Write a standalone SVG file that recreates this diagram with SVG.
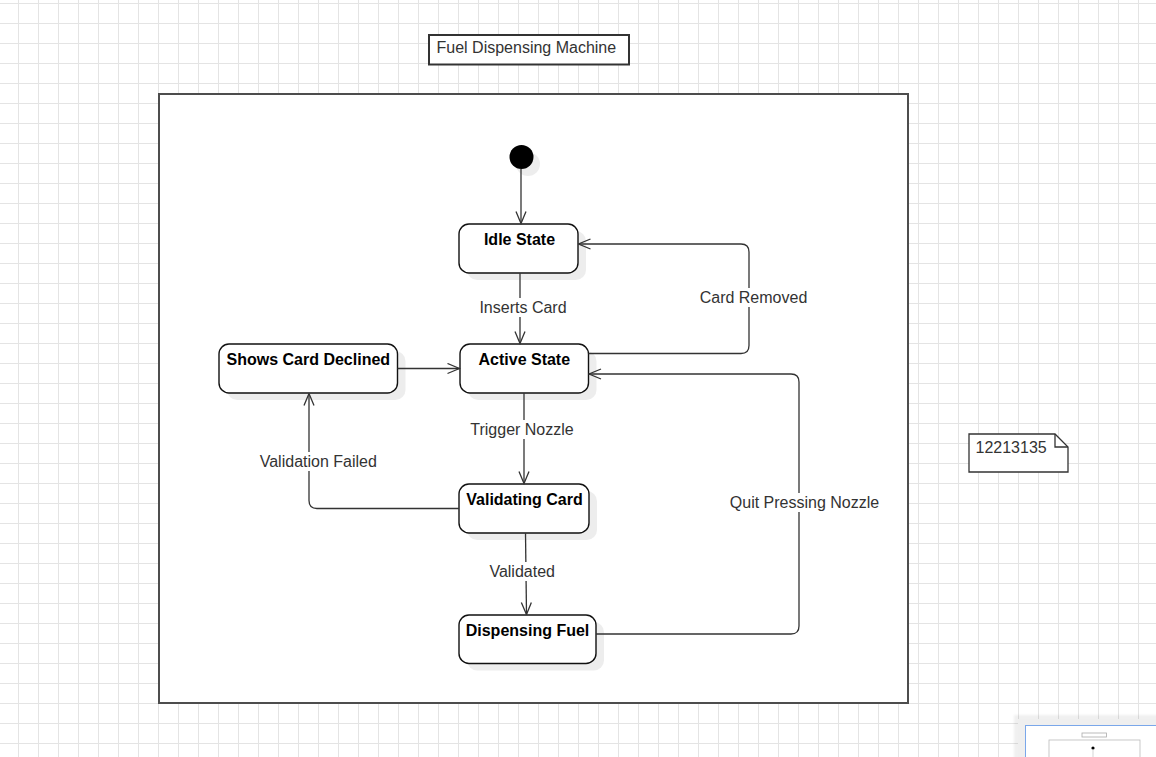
<svg xmlns="http://www.w3.org/2000/svg" width="1156" height="757" viewBox="0 0 1156 757">
<defs>
<pattern id="grid" x="18" y="3" width="20" height="20" patternUnits="userSpaceOnUse">
<rect x="0" y="0" width="20" height="1" fill="#e4e4e4"/>
<rect x="0" y="0" width="1" height="20" fill="#e4e4e4"/>
</pattern>
<marker id="arr" viewBox="0 0 14 12" refX="13" refY="6" markerWidth="14" markerHeight="12" markerUnits="userSpaceOnUse" orient="auto">
<path d="M1,1 L13,6 L1,11" fill="none" stroke="#333" stroke-width="1.3"/>
</marker>
<filter id="soft" x="-20%" y="-20%" width="140%" height="140%">
<feGaussianBlur stdDeviation="1"/>
</filter>
</defs>
<style>
.node{fill:#fff;stroke:#111;stroke-width:1.4}
.shadow{fill:#000;fill-opacity:0.07}
.ntext{font-family:"Liberation Sans",Arial,sans-serif;font-size:16px;font-weight:bold;fill:#000;text-anchor:middle}
.lbl{font-family:"Liberation Sans",Arial,sans-serif;font-size:16px;fill:#333;text-anchor:middle}
.lblbg{fill:#fff}
.edge{fill:none;stroke:#333;stroke-width:1.3}
.plain{font-family:"Liberation Sans",Arial,sans-serif;font-size:16px;fill:#333}
</style>
<rect x="0" y="0" width="1156" height="757" fill="#fff"/>
<rect x="0" y="0" width="1156" height="757" fill="url(#grid)"/>

<g id="title">
<rect x="429" y="35" width="200" height="29.5" fill="#fff" stroke="#333" stroke-width="2"/>
<text class="plain" x="436.5" y="53.3">Fuel Dispensing Machine</text>
</g>

<g id="frame">
<rect x="159" y="94" width="749" height="609" fill="#fff" stroke="#4d4d4d" stroke-width="2"/>
</g>

<g id="note">
<path d="M969,434 H1055 L1068,447 V472 H969 Z" fill="#fff" stroke="#333" stroke-width="1.3"/>
<path d="M1055,434 V447 H1068" fill="none" stroke="#333" stroke-width="1.3"/>
<text class="plain" x="975.5" y="452.7">12213135</text>
</g>

<g id="initial">
<circle cx="528" cy="164" r="12" class="shadow"/>
<circle cx="521.5" cy="157" r="12" fill="#000"/>
</g>

<g id="idle">
<rect x="467" y="231" width="119" height="49" rx="10" class="shadow"/>
<rect x="459" y="224" width="119" height="49" rx="10" class="node"/>
<text class="ntext" x="519.5" y="245">Idle State</text>
</g>

<g id="active">
<rect x="468" y="351" width="128.5" height="49" rx="10" class="shadow"/>
<rect x="460" y="344" width="128.5" height="49" rx="10" class="node"/>
<text class="ntext" x="524.3" y="365">Active State</text>
</g>

<g id="declined">
<rect x="227" y="351" width="178.5" height="49" rx="10" class="shadow"/>
<rect x="219" y="344" width="178.5" height="49" rx="10" class="node"/>
<text class="ntext" x="308.3" y="365">Shows Card Declined</text>
</g>

<g id="validating">
<rect x="467" y="491" width="130" height="49" rx="10" class="shadow"/>
<rect x="459" y="484" width="130" height="49" rx="10" class="node"/>
<text class="ntext" x="524.5" y="505">Validating Card</text>
</g>

<g id="dispensing">
<rect x="467" y="622" width="137" height="48.5" rx="10" class="shadow"/>
<rect x="459" y="615" width="137" height="48.5" rx="10" class="node"/>
<text class="ntext" x="527.5" y="636">Dispensing Fuel</text>
</g>

<g id="connectors">
<path class="edge" d="M521,169 V223.5" marker-end="url(#arr)"/>
<path class="edge" d="M520,273 V343.5" marker-end="url(#arr)"/>
<path class="edge" d="M588.5,353.5 H741 Q749,353.5 749,345.5 V252 Q749,244 741,244 H578.5" marker-end="url(#arr)"/>
<path class="edge" d="M596,634 H791 Q799,634 799,626 V382 Q799,374 791,374 H589" marker-end="url(#arr)"/>
<path class="edge" d="M397.5,368.5 H459.5" marker-end="url(#arr)"/>
<path class="edge" d="M524,393 V483.5" marker-end="url(#arr)"/>
<path class="edge" d="M459,508.5 H317 Q309,508.5 309,500.5 V393.5" marker-end="url(#arr)"/>
<path class="edge" d="M525.5,533 L526.5,614.5" marker-end="url(#arr)"/>

<rect class="lblbg" x="478" y="298" width="90" height="19"/>
<text class="lbl" x="523" y="313">Inserts Card</text>
<rect class="lblbg" x="698" y="288" width="111" height="19"/>
<text class="lbl" x="753.5" y="302.7">Card Removed</text>
<rect class="lblbg" x="468" y="420" width="108" height="19"/>
<text class="lbl" x="522" y="435">Trigger Nozzle</text>
<rect class="lblbg" x="258" y="452" width="121" height="19"/>
<text class="lbl" x="318.3" y="467.3">Validation Failed</text>
<rect class="lblbg" x="727" y="493" width="155" height="19"/>
<text class="lbl" x="804.5" y="508.3">Quit Pressing Nozzle</text>
<rect class="lblbg" x="487" y="562" width="70" height="19"/>
<text class="lbl" x="522.2" y="577">Validated</text>
</g>

<g id="minimap">
<rect x="1014" y="715" width="146" height="46" fill="#000" fill-opacity="0.06" filter="url(#soft)"/>
<rect x="1018" y="719" width="140" height="40" fill="#efefef"/>
<rect x="1025.5" y="725.5" width="132" height="34" fill="#fff" stroke="#7aa7ea" stroke-width="1"/>
<rect x="1082" y="733" width="24.5" height="4" fill="#fff" stroke="#aaa" stroke-width="0.8"/>
<rect x="1049" y="740" width="91" height="20" fill="#fff" stroke="#bbb" stroke-width="0.8"/>
<circle cx="1093" cy="748" r="1.6" fill="#000"/>
<path d="M1093,749 V757" stroke="#bbb" stroke-width="0.6"/>
</g>
</svg>
